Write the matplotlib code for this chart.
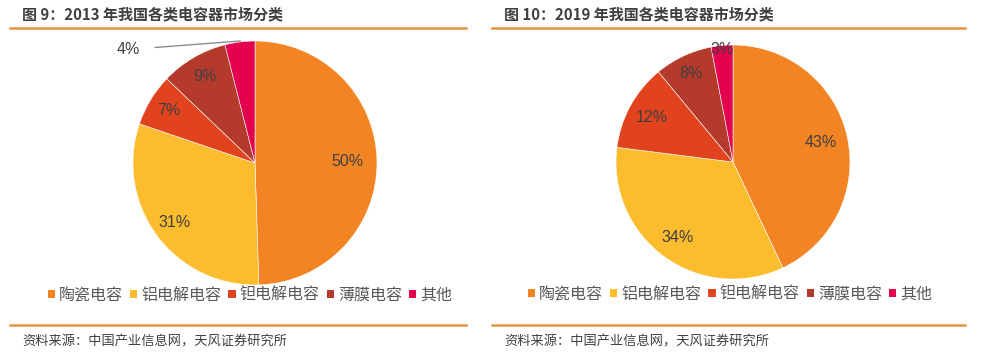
import numpy as np
import matplotlib.pyplot as plt
from matplotlib.patches import Patch
from matplotlib.lines import Line2D

plt.rcParams['font.family'] = ['Noto Sans CJK SC', 'DejaVu Sans']

# Data ==========================================================

categories = ["陶瓷电容", "铝电解电容", "钽电解电容", "薄膜电容", "其他"]
share_2013 = [50, 31, 7, 9, 4]
share_2019 = [43, 34, 12, 8, 3]
titles = ["图 9：2013 年我国各类电容器市场分类", "图 10：2019 年我国各类电容器市场分类"]
source = "资料来源：中国产业信息网，天风证券研究所"

colors = ["#F38424", "#FBBC2D", "#E1431F", "#B43A2C", "#E5004F"]
txt_color = "#404040"
rule_color = "#E3953F"

W, H = 986, 355
fig = plt.figure(figsize=(W / 100, H / 100), dpi=100)


def px_axes(cx, cy, r):
    return fig.add_axes([(cx - r) / W, (H - cy - r) / H, 2 * r / W, 2 * r / H])


def draw_pie(ax, values, label_r):
    wedges, _ = ax.pie(values, colors=colors, startangle=90, counterclock=False,
                       radius=1, wedgeprops=dict(edgecolor="white", linewidth=0.4))
    for w, v, r in zip(wedges, values, label_r):
        if r is None:
            continue
        ang = np.deg2rad((w.theta1 + w.theta2) / 2)
        ax.text(r * np.cos(ang), r * np.sin(ang), f"{v}%", ha="center", va="center",
                fontsize=11.5, color=txt_color, family="Liberation Sans")
    ax.set_xlim(-1, 1)
    ax.set_ylim(-1, 1)
    ax.set_aspect("equal")
    ax.axis("off")
    return wedges


# Pie 2013 ======================================================

ax1 = px_axes(255, 163, 122)
draw_pie(ax1, share_2013, [0.76, 0.82, 0.83, 0.82, None])
ax1.annotate(f"{share_2013[-1]}%", xy=(-0.12, 1.0), xytext=(-1.04, 0.93),
             ha="center", va="center", fontsize=11.5, color=txt_color,
             family="Liberation Sans", annotation_clip=False,
             arrowprops=dict(arrowstyle="-", color="#8C8C8C", lw=1.0,
                             shrinkA=9, shrinkB=0,
                             connectionstyle="arc3,rad=0"))

# Pie 2019 ======================================================

ax2 = px_axes(733, 162, 117)
draw_pie(ax2, share_2019, [0.77, 0.80, 0.79, 0.84, 0.97])

# Frame: titles, rules, legends, source ==========================

handles = [Patch(facecolor=c, edgecolor="none") for c in colors]
panels = [(10, 466, 22, 250, 295), (492, 965, 504, 730, 294)]
for (x0, x1, tx, lx, ly), title in zip(panels, titles):
    fig.add_artist(Line2D([x0 / W, x1 / W], [1 - 27.5 / H] * 2, color=rule_color, lw=1.8))
    fig.add_artist(Line2D([x0 / W, x1 / W], [1 - 325 / H] * 2, color=rule_color, lw=1.8))
    fig.text(tx / W, 1 - 14 / H, title, fontsize=10.8, fontweight="bold",
             color=txt_color, ha="left", va="center")
    fig.text(tx / W, 1 - 342 / H, source, fontsize=9.5, color=txt_color,
             ha="left", va="center")
    fig.legend(handles, categories, loc="center", bbox_to_anchor=(lx / W, 1 - ly / H),
               ncol=5, frameon=False, fontsize=11.5, labelcolor="#595959",
               handlelength=0.45, handleheight=0.45, handletextpad=0.25,
               columnspacing=0.45, borderpad=0)

fig.savefig("out.png", dpi=100, facecolor="white")
plt.close()
